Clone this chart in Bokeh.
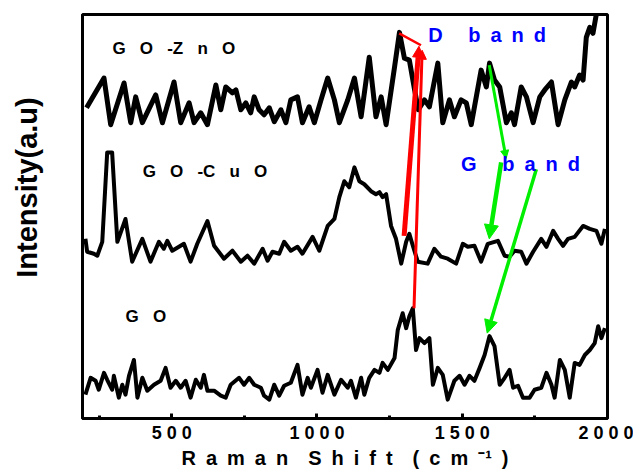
from bokeh.plotting import figure
from bokeh.models import Range1d, Label, Arrow, NormalHead, FixedTicker
from bokeh.embed import file_html
from bokeh.resources import INLINE

# Raman shift (cm^-1) and stacked intensities (a.u.) of the three samples
zno_shift = [
    207, 267, 290, 336, 359, 376, 399, 445, 468, 508,
    531, 560, 577, 600, 623, 652, 669, 686, 709, 721,
    738, 755, 772, 784, 801, 818, 836, 853, 876, 893,
    910, 933, 950, 973, 991, 1014, 1037, 1060, 1077, 1106,
    1129, 1152, 1180, 1203, 1221, 1238, 1267, 1284, 1301, 1318,
    1336, 1349, 1370, 1387, 1416, 1433, 1456, 1473, 1496, 1514,
    1531, 1565, 1583, 1594, 1611, 1629, 1652, 1669, 1680, 1703,
    1721, 1744, 1767, 1784, 1807, 1830, 1853, 1876, 1887, 1904,
    1916, 1927, 1939, 1950, 1962, 1972, 1985,
]
zno_int = [
    313, 343, 296, 338, 298, 324, 298, 326, 298, 339,
    298, 318, 298, 308, 296, 336, 311, 334, 328, 331,
    311, 318, 308, 324, 311, 306, 313, 299, 311, 298,
    321, 324, 298, 314, 298, 321, 343, 321, 298, 321,
    343, 304, 364, 304, 324, 296, 354, 389, 363, 361,
    331, 311, 321, 314, 358, 298, 321, 304, 321, 318,
    296, 351, 334, 358, 341, 334, 298, 308, 296, 334,
    324, 298, 324, 331, 339, 296, 321, 339, 334, 346,
    341, 384, 394, 388, 408, 430, 450,
]

cuo_shift = [
    203, 209, 232, 244, 261, 278, 295, 313, 341, 364,
    399, 427, 456, 473, 485, 502, 525, 542, 565, 588,
    623, 646, 680, 709, 738, 761, 784, 813, 830, 847,
    870, 887, 910, 933, 950, 985, 1008, 1037, 1060, 1077,
    1094, 1111, 1129, 1146, 1163, 1186, 1203, 1215, 1226, 1238,
    1255, 1272, 1290, 1307, 1318, 1330, 1347, 1381, 1404, 1427,
    1450, 1479, 1502, 1519, 1542, 1565, 1588, 1611, 1623, 1646,
    1663, 1680, 1703, 1721, 1744, 1772, 1790, 1813, 1830, 1847,
    1864, 1887, 1916, 1939, 1962, 1979, 1991,
]
cuo_int = [
    181, 168, 166, 164, 178, 268, 268, 178, 201, 158,
    181, 158, 178, 171, 179, 169, 173, 176, 158, 176,
    199, 174, 161, 169, 158, 164, 156, 171, 159, 168,
    166, 178, 169, 173, 166, 183, 169, 194, 201, 223,
    239, 233, 253, 239, 236, 229, 226, 228, 223, 226,
    194, 181, 156, 178, 186, 174, 158, 156, 171, 163,
    161, 156, 176, 173, 174, 158, 176, 178, 179, 164,
    163, 169, 168, 156, 168, 181, 173, 189, 181, 174,
    181, 183, 194, 191, 189, 176, 191,
]

go_shift = [
    203, 221, 238, 249, 267, 278, 295, 301, 318, 330,
    341, 353, 370, 382, 399, 416, 439, 462, 479, 496,
    514, 531, 548, 565, 583, 600, 611, 623, 646, 669,
    686, 703, 732, 749, 767, 784, 807, 818, 836, 853,
    870, 887, 910, 933, 950, 968, 979, 1002, 1019, 1037,
    1060, 1083, 1106, 1117, 1134, 1152, 1163, 1180, 1198, 1215,
    1226, 1244, 1267, 1278, 1295, 1307, 1318, 1330, 1341, 1353,
    1370, 1387, 1399, 1416, 1433, 1450, 1473, 1491, 1508, 1525,
    1542, 1560, 1577, 1594, 1611, 1629, 1646, 1663, 1675, 1692,
    1709, 1732, 1749, 1772, 1790, 1807, 1818, 1836, 1853, 1870,
    1887, 1904, 1922, 1939, 1956, 1968, 1979, 1991,
]
go_int = [
    24, 41, 38, 29, 46, 39, 29, 43, 21, 34,
    24, 43, 59, 21, 41, 28, 34, 38, 51, 31,
    38, 31, 38, 21, 39, 31, 44, 28, 28, 23,
    21, 34, 41, 34, 41, 34, 31, 23, 19, 34,
    23, 33, 36, 54, 24, 41, 31, 49, 26, 44,
    24, 39, 31, 38, 21, 41, 24, 41, 49, 46,
    56, 49, 61, 89, 106, 91, 103, 111, 69, 81,
    76, 81, 34, 51, 44, 19, 38, 43, 34, 43,
    38, 51, 64, 83, 73, 34, 41, 49, 31, 33,
    21, 21, 29, 31, 46, 34, 21, 59, 49, 21,
    56, 54, 64, 69, 76, 93, 81, 91,
]

tick_values = [500, 1000, 1500, 2000]
tick_labels = ["5 0 0", "1 0 0 0", "1 5 0 0", "2 0 0 0"]
minor_tick_values = [250, 750, 1250, 1750]

# Band annotations: (x_start, y_start, x_end, y_end, colour, width, head size)
band_arrows = [
    (1283, 388, 1358, 376, "#ff0000", 2.5, 0),
    (1300, 184, 1351, 375, "#ff0000", 5, 11),
    (1334, 111, 1362, 371, "#ff0000", 3, 9),
    (1593, 356, 1651, 262, "#00ee00", 3, 8),
    (1634, 258, 1593, 181, "#00ee00", 4.5, 14),
    (1755, 251, 1586, 86, "#00ee00", 3.5, 13),
]

BOLD_FONT = "Liberation Sans"
GAP = "\u00a0\u00a0\u00a0"
EN = "\u2002"
EM = "\u2003"

p = figure(
    width=633, height=471,
    output_backend="svg", toolbar_location=None,
    x_range=Range1d(193, 2000), y_range=Range1d(0, 407),
    min_border_left=82, min_border_right=26,
    min_border_top=14, min_border_bottom=50,
)
p.background_fill_color = "white"
p.border_fill_color = "white"
p.grid.visible = False
p.outline_line_color = "black"
p.outline_line_width = 3
p.outline_line_alpha = 1.0

xa = p.xaxis[0]
xa.ticker = FixedTicker(ticks=tick_values, minor_ticks=minor_tick_values)
xa.major_label_overrides = {v: s for v, s in zip(tick_values, tick_labels)}
xa.axis_line_width = 3
xa.major_tick_in = 5
xa.major_tick_out = 0
xa.minor_tick_in = 3
xa.minor_tick_out = 0
xa.major_tick_line_width = 3
xa.minor_tick_line_width = 3
xa.major_label_standoff = 4
xa.major_label_text_font = BOLD_FONT
xa.major_label_text_font_style = "bold"
xa.major_label_text_font_size = "18px"
xa.major_label_text_color = "black"
xa.axis_label = EM.join([EN.join("Raman"), EN.join("Shift"),
                         EN.join("(cm") + EN + "\u207b\u00b9" + EN + ")"])
xa.axis_label_text_font = BOLD_FONT
xa.axis_label_text_font_style = "bold"
xa.axis_label_text_font_size = "20px"
xa.axis_label_text_color = "black"
xa.axis_label_standoff = 1

ya = p.yaxis[0]
ya.ticker = FixedTicker(ticks=[])
ya.axis_line_width = 3
ya.major_tick_in = 0
ya.major_tick_out = 0
ya.minor_tick_in = 0
ya.minor_tick_out = 0
ya.major_label_text_font_size = "0px"
ya.axis_label = EM + EM + "Intensity(a.u)"
ya.axis_label_text_font = BOLD_FONT
ya.axis_label_text_font_style = "bold"
ya.axis_label_text_font_size = "29px"
ya.axis_label_text_color = "black"
ya.axis_label_standoff = 40

# spectra
p.line(zno_shift, zno_int, line_color="black", line_width=5, line_join="round")
p.line(cuo_shift, cuo_int, line_color="black", line_width=4, line_join="round")
p.line(go_shift, go_int, line_color="black", line_width=4, line_join="round")

for x0, y0, x1, y1, col, w, head in band_arrows:
    end = NormalHead(size=head, fill_color=col, line_color=col, line_width=1) if head else None
    p.add_layout(Arrow(x_start=x0, y_start=y0, x_end=x1, y_end=y1,
                       line_color=col, line_width=w, end=end))


def label(x, y, text, size, color="black"):
    p.add_layout(Label(x=x, y=y, text=text, text_font=BOLD_FONT,
                       text_font_style="bold", text_font_size=size,
                       text_color=color, text_align="left",
                       text_baseline="middle"))


label(296, 373, GAP.join(["G", "O", "-Z", "n", "O"]), "17px")
label(400, 249, GAP.join(["G", "O", "-C", "u", "O"]), "17px")
label(341, 103, GAP.join(["G", "O"]), "17px")

label(1383, 386, "D" + EN + EN + "\u00a0" + EN.join("band"), "20px", color="#0000ff")
label(1496, 256, "G" + EN + EN + "\u00a0" + EN.join("band"), "20px", color="#0000ff")

open("out.html", "w").write(file_html(p, INLINE))
